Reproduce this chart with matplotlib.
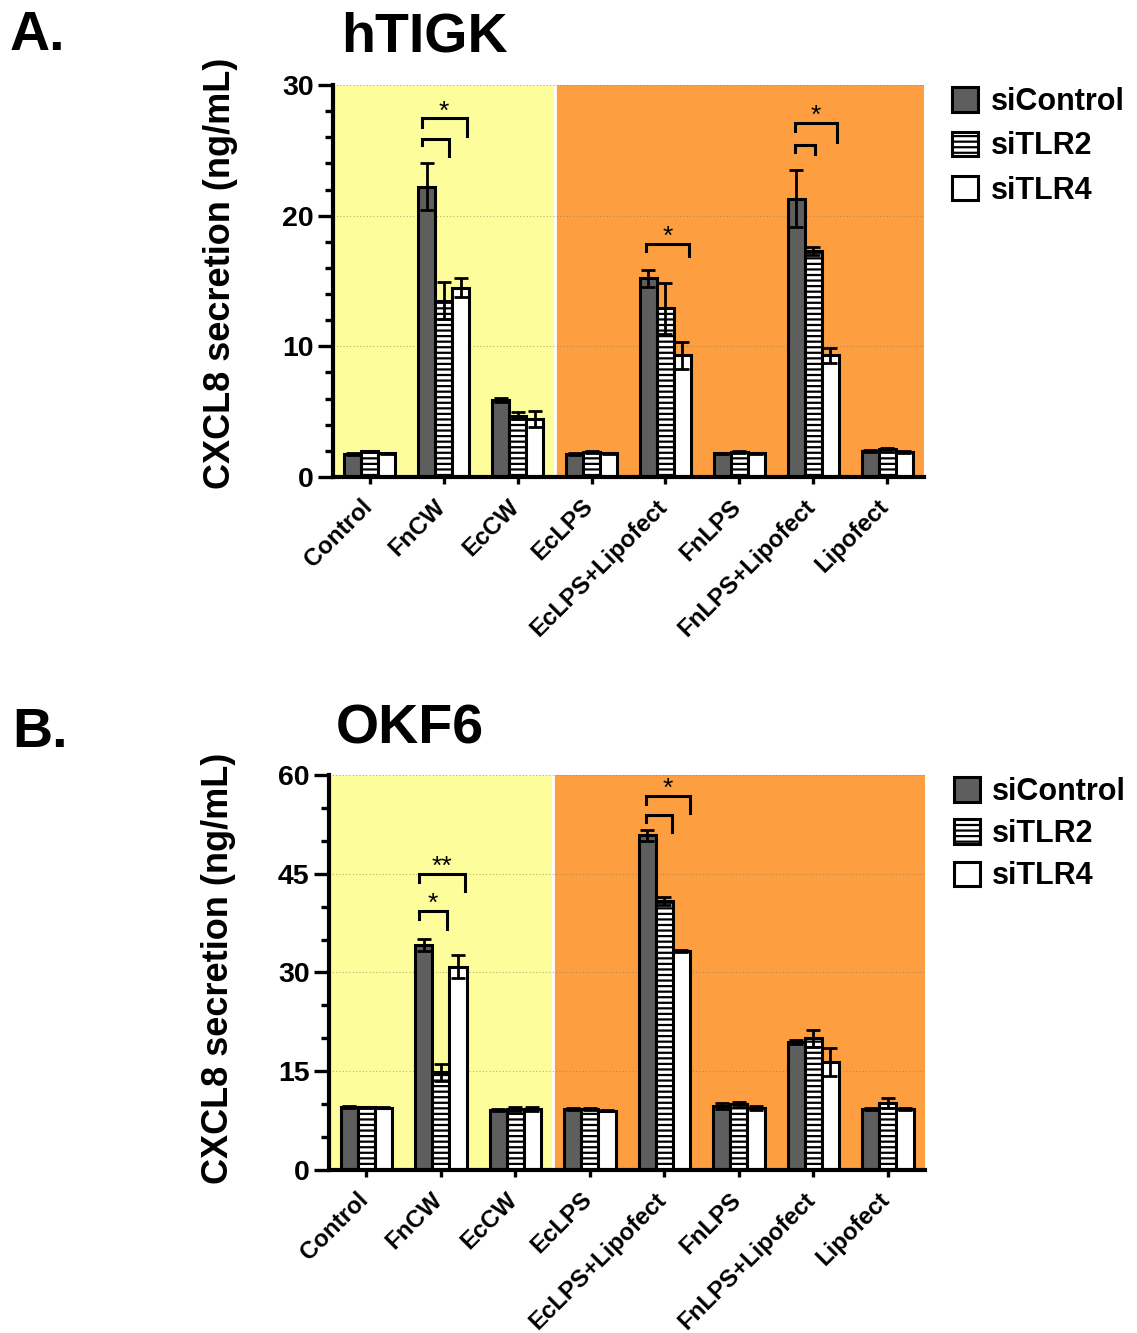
import numpy as np
import matplotlib
matplotlib.use('Agg')
import matplotlib.pyplot as plt
from matplotlib.patches import Patch

plt.rcParams['font.family'] = ['Liberation Sans', 'DejaVu Sans']
plt.rcParams['font.weight'] = 'bold'
plt.rcParams['hatch.linewidth'] = 1.6

# ---- data ----
categories = ['Control', 'FnCW', 'EcCW', 'EcLPS', 'EcLPS+Lipofect',
              'FnLPS', 'FnLPS+Lipofect', 'Lipofect']
groups = ['siControl', 'siTLR2', 'siTLR4']

# panel A: hTIGK
a_ctrl = [1.75, 22.2, 5.9, 1.75, 15.2, 1.8, 21.3, 2.0]
a_ctrl_err = [0.1, 1.8, 0.15, 0.1, 0.65, 0.05, 2.2, 0.1]
a_tlr2 = [1.95, 13.5, 4.7, 1.9, 12.9, 1.9, 17.3, 2.15]
a_tlr2_err = [0.05, 1.4, 0.3, 0.05, 1.95, 0.05, 0.3, 0.1]
a_tlr4 = [1.8, 14.5, 4.45, 1.8, 9.3, 1.8, 9.3, 1.9]
a_tlr4_err = [0.05, 0.75, 0.6, 0.05, 1.0, 0.05, 0.6, 0.05]

# panel B: OKF6
b_ctrl = [9.5, 34.2, 9.1, 9.3, 50.85, 9.7, 19.5, 9.25]
b_ctrl_err = [0.15, 0.9, 0.1, 0.15, 0.8, 0.4, 0.3, 0.1]
b_tlr2 = [9.5, 14.85, 9.25, 9.25, 40.9, 9.95, 20.0, 10.15]
b_tlr2_err = [0.1, 1.3, 0.3, 0.1, 0.6, 0.45, 1.3, 0.75]
b_tlr4 = [9.45, 30.9, 9.25, 9.0, 33.3, 9.4, 16.4, 9.25]
b_tlr4_err = [0.1, 1.7, 0.3, 0.1, 0.15, 0.25, 2.2, 0.1]

# significance brackets: (category, x0, x1, top, left_end, right_end, label)
a_brackets = [
    (1, -0.30, 0.07, 25.84, 25.4, 24.56, ''),
    (1, -0.30, 0.31, 27.44, 26.8, 26.1, '*'),
    (4, -0.26, 0.32, 17.85, 17.3, 16.93, '*'),
    (6, -0.25, 0.03, 25.4, 24.9, 24.7, ''),
    (6, -0.24, 0.32, 27.1, 26.5, 25.65, '*'),
]
b_brackets = [
    (1, -0.29, 0.08, 39.4, 38.2, 36.6, '*'),
    (1, -0.29, 0.32, 45.0, 43.7, 42.4, '**'),
    (4, -0.25, 0.10, 54.0, 52.9, 51.4, ''),
    (4, -0.25, 0.34, 56.8, 55.55, 54.2, '*'),
]

dark = '#5e5e5e'
yellow = '#fefd9b'
orange = '#fd9f40'
bw = 0.23

fig = plt.figure(figsize=(11.37, 13.33), dpi=100)
axA = fig.add_axes([0.2929, 0.6422, 0.5198, 0.2940])
axB = fig.add_axes([0.2894, 0.1223, 0.5242, 0.2963])


def draw_panel(ax, vals, errs, brackets, ymax, major, minor, lspace):
    x = np.arange(len(categories))
    ax.axvspan(-0.5, 2.5, color=yellow, zorder=0)
    ax.axvspan(2.5, 7.5, color=orange, zorder=0)
    ax.axvline(2.5, color='white', lw=2, zorder=1)
    for yv in np.arange(major, ymax + 0.1, major):
        ax.axhline(yv, color='#8a7a5a', lw=0.8, ls=(0, (1, 2)), alpha=0.6, zorder=1)

    styles = [dict(color=dark, hatch=None),
              dict(color='white', hatch='---'),
              dict(color='white', hatch=None)]
    for i, (v, e, st) in enumerate(zip(vals, errs, styles)):
        xp = x + (i - 1) * bw
        ax.bar(xp, v, width=bw, color=st['color'], edgecolor='black',
               linewidth=2.2, hatch=st['hatch'], zorder=3, label=groups[i])
        ax.errorbar(xp, v, yerr=e, fmt='none', ecolor='black', elinewidth=2,
                    capsize=5, capthick=2, zorder=4)

    for c, x0, x1, top, le, re, lab in brackets:
        ax.plot([c + x0, c + x0, c + x1, c + x1], [le, top, top, re],
                color='black', lw=2.2, zorder=5, solid_joinstyle='miter')
        if lab:
            ax.text(c + (x0 + x1) / 2, top, lab, ha='center', va='baseline',
                    fontsize=19, fontweight='normal', zorder=6)

    ax.set_xlim(-0.5, 7.5)
    ax.set_ylim(0, ymax)
    ax.set_yticks(np.arange(0, ymax + 0.1, major))
    ax.set_yticks(np.arange(0, ymax + 0.1, minor), minor=True)
    ax.set_xticks(x)
    ax.set_xticklabels([])
    # category labels, rotated, placed just below each tick
    for xi, cat in zip(x, categories):
        ax.annotate(cat, xy=(xi, 0), xycoords=('data', 'axes fraction'),
                    xytext=(-7, -13), textcoords='offset points',
                    rotation=45, ha='right', va='top', rotation_mode='anchor',
                    fontsize=17.3, fontweight='bold', annotation_clip=False)
    ax.tick_params(axis='y', which='major', length=11, width=2.4, labelsize=20.5, pad=3)
    ax.tick_params(axis='y', which='minor', length=5.5, width=2.4)
    ax.tick_params(axis='x', which='major', length=5, width=2.4)
    for lab in ax.get_yticklabels():
        lab.set_fontweight('bold')
    for s in ['top', 'right']:
        ax.spines[s].set_visible(False)
    for s in ['left', 'bottom']:
        ax.spines[s].set_linewidth(3)
        ax.spines[s].set_zorder(6)

    handles = [Patch(facecolor=dark, edgecolor='black', linewidth=2.2),
               Patch(facecolor='white', edgecolor='black', linewidth=2.2, hatch='---'),
               Patch(facecolor='white', edgecolor='black', linewidth=2.2)]
    ax.legend(handles, groups, loc='upper left', bbox_to_anchor=(1.048, 0.995),
              frameon=False, handlelength=0.85, handleheight=0.85,
              handletextpad=0.4, labelspacing=lspace, borderpad=0, borderaxespad=0,
              prop={'weight': 'bold', 'size': 22})


draw_panel(axA, [a_ctrl, a_tlr2, a_tlr4], [a_ctrl_err, a_tlr2_err, a_tlr4_err],
           a_brackets, 30, 10, 2, 0.47)
draw_panel(axB, [b_ctrl, b_tlr2, b_tlr4], [b_ctrl_err, b_tlr2_err, b_tlr4_err],
           b_brackets, 60, 15, 5, 0.40)

fig.text(10 / 1137, 1 - 50 / 1333, 'A.', fontsize=40, fontweight='bold', va='baseline')
fig.text(12 / 1137, 1 - 747 / 1333, 'B.', fontsize=40, fontweight='bold', va='baseline')
fig.text(341 / 1137, 1 - 52 / 1333, 'hTIGK', fontsize=40, fontweight='bold', va='baseline')
fig.text(336 / 1137, 1 - 743 / 1333, 'OKF6', fontsize=40, fontweight='bold', va='baseline')
fig.text(220 / 1137, 1 - 273 / 1333, 'CXCL8 secretion (ng/mL)', rotation=90,
         fontsize=26, fontweight='bold', ha='center', va='center')
fig.text(218 / 1137, 1 - 968 / 1333, 'CXCL8 secretion (ng/mL)', rotation=90,
         fontsize=26, fontweight='bold', ha='center', va='center')

fig.savefig('out.png', dpi=100, facecolor='white')
